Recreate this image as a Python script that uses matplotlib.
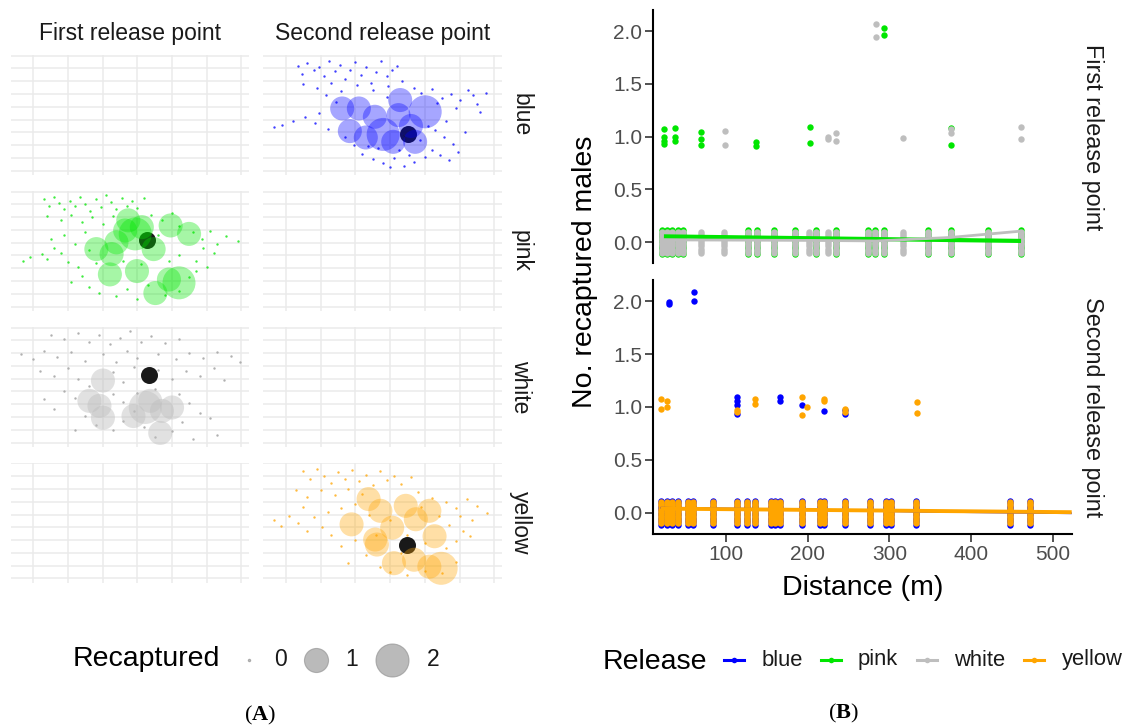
import matplotlib
matplotlib.use('Agg')
import matplotlib.pyplot as plt

plt.rcParams['font.family'] = ['Liberation Sans', 'DejaVu Sans']
plt.rcParams['mathtext.fontset'] = 'custom'
plt.rcParams['mathtext.rm'] = 'Liberation Serif'
plt.rcParams['mathtext.bf'] = 'Liberation Serif:bold'

# ---------------- data: panel A (trap map, grid units) ----------------
releases = ['blue', 'pink', 'white', 'yellow']
release_points = ['First release point', 'Second release point']
colors = {'blue': '#0000FF', 'pink': '#00E600', 'white': '#BEBEBE', 'yellow': '#FFA500'}

blue_zero = [(0.35,8.2),(0.45,7.6),(0.6,8.45),(0.8,7.9),(0.95,8.1),(1.1,7.4),(1.25,8.6),(1.4,7.8),(1.55,8.3),(1.7,7.2),
             (1.85,7.9),(2.0,8.5),(2.15,7.5),(2.3,8.1),(2.45,6.9),(2.6,7.7),(2.75,8.6),(2.9,7.4),(3.05,7.9),(3.2,8.2),
             (0.5,6.8),(0.9,6.5),(1.3,6.9),(1.6,6.2),(2.05,6.7),(2.5,6.3),(2.95,6.6),(3.35,7.0),(3.7,6.5),(1.15,5.9),
             (3.9,6.1),(4.2,6.4),(4.5,5.7),(4.75,6.0),(5.0,5.5),(5.25,6.3),(5.5,5.2),(5.75,6.1),(4.35,5.3),(4.9,4.9),
             (5.4,5.9),(5.6,4.6),(4.6,3.9),(4.3,3.2),(4.55,2.6),(4.8,2.1),(4.2,1.6),(4.45,1.2),(4.95,1.5),(4.7,0.8),
             (2.2,1.3),(2.5,0.9),(2.8,0.6),(3.1,1.0),(3.4,0.4),(3.7,0.7),(4.0,1.1),(2.65,1.8),(3.25,1.6),(3.55,1.2),
             (-0.35,3.4),(-0.1,3.6),(0.2,3.9),(0.55,4.2),(0.85,3.7),(1.2,3.3),(0.95,4.5),(1.45,5.4),
             (1.95,2.0),(2.35,1.9),(3.0,0.3),(3.85,2.4),(1.7,2.6),(2.9,5.8),(4.1,3.5),(5.15,3.0)]
blue_caught = [(1.62,4.87,1),(2.10,4.87,1),(1.84,3.10,1),(3.29,5.53,1),(4.01,4.61,2),(3.24,4.35,1),
               (2.80,2.84,2),(3.09,2.26,1),(3.72,2.26,1),(2.56,4.22,1),(3.6,3.5,1),(2.3,2.6,1)]
blue_release = (3.51, 2.84)

pink_zero = [(0.3,8.4),(0.45,7.9),(0.6,8.6),(0.75,8.1),(0.9,7.6),(1.05,8.3),(1.2,7.9),(1.35,8.6),(1.5,8.0),(1.65,7.5),
             (1.8,8.4),(1.95,7.8),(2.1,8.7),(2.25,8.2),(2.4,7.6),(2.55,8.5),(2.7,7.9),(2.85,8.3),(3.0,7.7),(3.2,8.5),
             (0.4,7.1),(0.8,6.8),(1.1,7.2),(1.4,6.6),(1.7,7.0),(2.0,6.5),(2.3,7.1),(3.4,7.2),(3.7,6.8),(4.0,7.3),
             (-0.3,3.6),(-0.1,3.9),(0.25,4.1),(0.4,3.7),(0.6,4.6),(0.8,4.2),(1.0,3.5),(1.2,4.9),(0.5,5.3),(0.9,5.6),
             (1.3,3.1),(1.5,5.8),(4.6,5.8),(4.85,5.3),(5.1,5.9),(5.3,4.9),(5.55,5.5),(5.9,5.1),(4.9,4.6),(5.2,4.2),
             (4.7,3.6),(5.0,3.1),(1.1,1.9),(1.4,2.4),(1.6,1.5),(1.9,1.1),(2.4,0.8),(2.7,1.4),(3.0,0.6),(3.3,1.7),
             (3.8,0.9),(4.2,1.2),(4.5,2.3),(4.7,2.8),(1.8,3.4),(2.6,3.6),(3.1,3.3),(3.9,3.6),(4.2,4.0),(1.6,4.4),
             (3.6,5.6),(4.2,6.3)]
pink_caught = [(2.65,5.96,1),(2.94,5.69,2),(2.40,5.03,1),(3.96,6.35,1),(4.49,5.69,1),(1.82,4.50,1),
               (2.26,4.11,1),(2.21,2.52,1),(2.99,2.78,1),(3.52,1.06,1),(3.91,2.12,1),(4.20,1.86,2),
               (3.47,4.50,1),(2.74,6.75,1),(3.13,6.22,1)]
pink_release = (3.28, 5.22)

white_zero = [(0.5,8.4),(0.9,8.1),(1.3,8.6),(1.6,7.9),(1.9,8.4),(2.2,7.7),(2.5,8.2),(2.8,8.7),(3.1,7.9),(3.4,8.3),
              (3.8,7.8),(4.2,8.1),(-0.35,6.9),(0.0,6.5),(0.3,7.2),(0.7,6.7),(1.1,7.1),(1.5,6.4),(2.0,6.9),(2.4,6.3),
              (2.7,7.2),(3.0,6.6),(3.6,6.9),(4.1,6.5),(4.5,7.0),(4.9,6.6),(5.3,7.1),(5.7,6.8),(5.95,6.3),
              (0.2,5.6),(0.6,5.2),(1.0,5.8),(1.3,5.0),(1.6,4.4),(2.3,5.5),(2.6,4.7),(2.9,5.9),(3.6,5.7),(4.0,5.0),
              (4.4,5.6),(4.8,5.2),(5.2,5.8),(5.5,4.9),(0.9,4.0),(1.2,3.5),(2.3,3.8),(2.6,3.2),(2.9,2.5),(3.0,3.9),
              (3.5,4.2),(4.2,3.8),(4.5,3.1),(4.8,2.3),(5.1,1.9),(4.3,1.6),(1.5,2.1),(1.8,1.4),(2.3,1.0),(2.6,1.7),
              (3.2,1.2),(3.5,0.4),(4.0,0.9),(4.6,0.3),(5.3,0.6),(1.2,1.0),(0.6,2.6),(0.3,3.4)]
white_caught = [(2.01,4.85,1),(1.62,3.26,1),(1.91,2.87,1),(2.01,1.94,1),(2.89,2.07,1),(3.37,3.26,1),
                (3.71,2.47,1),(4.00,2.74,1),(3.66,0.75,1),(3.23,2.74,2)]
white_release = (3.33, 5.25)

yellow_zero = [(0.5,8.4),(0.7,7.8),(0.9,8.6),(1.1,8.0),(1.3,7.5),(1.5,8.3),(1.7,7.8),(1.9,8.5),(2.1,7.6),(2.3,8.1),
               (2.5,7.3),(2.7,8.4),(2.9,7.7),(3.1,8.0),(3.3,7.4),(3.6,7.9),(0.3,6.9),(0.6,6.4),(1.0,6.9),(1.4,6.5),
               (1.8,7.0),(2.2,6.6),(2.0,5.8),(1.6,5.5),(3.8,6.8),(4.2,6.3),(-0.35,4.6),(-0.15,4.1),(0.1,4.9),(0.35,4.3),
               (0.6,3.7),(0.8,4.8),(1.05,4.0),(1.3,3.4),(0.5,5.6),(1.2,5.2),(4.6,6.0),(4.9,5.5),(5.2,6.2),(5.5,5.7),
               (5.8,5.1),(5.0,4.9),(5.35,4.6),(4.7,4.2),(5.1,3.7),(4.9,2.9),(4.6,2.4),(5.3,3.3),(2.0,3.0),(1.6,2.5),
               (2.3,1.8),(1.8,1.2),(2.7,0.9),(3.0,0.5),(3.5,0.3),(4.0,0.6),(4.5,0.4),(4.9,1.3),(3.3,2.0),(2.6,3.4),
               (3.0,4.6),(3.5,3.4),(4.0,2.8),(4.4,4.9),(3.9,5.6),(2.4,5.0)]
yellow_caught = [(2.38,6.21,1),(2.72,5.29,1),(3.45,5.68,1),(4.13,5.29,1),(1.89,4.23,1),(3.06,3.97,1),
                 (3.74,4.63,1),(4.28,3.30,1),(2.62,2.65,1),(3.11,1.19,1),(3.69,1.46,1),(4.13,0.92,1),
                 (4.47,0.79,2),(2.57,3.04,1)]
yellow_release = (3.50, 2.65)

map_panels = {('blue', 1): (blue_zero, blue_caught, blue_release),
              ('pink', 0): (pink_zero, pink_caught, pink_release),
              ('white', 0): (white_zero, white_caught, white_release),
              ('yellow', 1): (yellow_zero, yellow_caught, yellow_release)}
recap_levels = [0, 1, 2]

# ---------------- data: panel B (recaptures vs distance) ----------------
pink_zero_dist = [21.3, 27.4, 33.5, 41.6, 47.7, 127.3, 137.6, 158.8, 184.5, 210.2, 234.7,
                  274.3, 282.4, 293.5, 347.0, 375.5, 420.4, 460.8]
white_zero_dist = [21.3, 27.4, 33.5, 41.6, 47.7, 69.4, 97.9, 127.3, 137.6, 158.8, 184.5, 202.0,
                   210.2, 224.5, 234.7, 274.3, 282.4, 293.5, 317.1, 347.0, 375.5, 420.4, 460.8]
pink_hit_d = [24.1, 24.1, 24.1, 24.1, 37.2, 37.2, 37.2, 69.8, 69.8, 69.8, 136.3, 136.3,
              202.5, 202.5, 375.5, 375.5, 293.9, 293.9]
pink_hit_y = [1.07, 1.00, 0.96, 0.93, 1.08, 1.00, 0.96, 1.04, 0.98, 0.92, 0.95, 0.91,
              1.09, 0.94, 1.08, 0.92, 2.03, 1.96]
white_hit_d = [98.4, 98.4, 225.3, 225.3, 234.7, 234.7, 283.7, 283.7, 317.1, 375.5, 375.5, 460.8, 460.8]
white_hit_y = [1.05, 0.92, 1.00, 0.98, 1.03, 0.96, 2.07, 1.94, 0.99, 1.07, 1.03, 1.09, 0.98]
pink_fit_d = [24, 461]
pink_fit_y = [0.055, 0.012]
white_fit_d = [21, 100, 200, 284, 375, 461]
white_fit_y = [0.022, 0.020, 0.017, 0.012, 0.045, 0.105]

blue_zero_dist = [20.0, 27.4, 33.5, 41.6, 53.8, 59.2, 83.7, 113.1, 125.3, 135.5, 154.7, 160.0, 166.1,
                  193.4, 215.0, 220.0, 245.8, 276.3, 295.9, 301.6, 332.3, 446.9, 471.4]
yellow_zero_dist = [20.0, 27.4, 33.5, 41.6, 53.8, 59.2, 83.7, 113.1, 125.3, 135.5, 154.7, 160.0, 166.1,
                    193.4, 215.0, 220.0, 245.8, 276.3, 295.9, 301.6, 332.3, 446.9, 471.4]
blue_hit_d = [30.6, 30.6, 60.8, 60.8, 113.1, 113.1, 113.1, 113.1, 166.2, 166.2, 193.1, 220.1, 245.8, 245.8]
blue_hit_y = [1.99, 1.97, 2.09, 2.00, 1.09, 1.06, 1.02, 0.93, 1.09, 1.06, 1.02, 0.96, 0.97, 0.93]
yellow_hit_d = [20.4, 20.4, 27.3, 27.3, 113.1, 113.1, 135.5, 135.5, 193.1, 193.1, 198.8,
                220.1, 220.1, 245.8, 245.8, 333.5, 333.5]
yellow_hit_y = [1.08, 0.98, 1.06, 1.00, 0.97, 0.95, 1.08, 1.03, 1.09, 0.92, 1.00,
                1.08, 1.06, 0.98, 0.95, 1.05, 0.94]
blue_fit_d = [20, 160, 330, 523]
blue_fit_y = [0.048, 0.035, 0.012, -0.004]
yellow_fit_d = [20, 523]
yellow_fit_y = [0.040, 0.006]

zero_jitter = [-0.1, -0.08, -0.06, -0.04, -0.02, 0.0, 0.02, 0.04, 0.06, 0.08, 0.1]
y_ticks = [0.0, 0.5, 1.0, 1.5, 2.0]
x_ticks = [100, 200, 300, 400, 500]

# ---------------- figure ----------------
W, H = 1129, 727
fig = plt.figure(figsize=(W / 100, H / 100), dpi=100)


def frac(left, top, w, h):
    return [left / W, 1 - (top + h) / H, w / W, h / H]


TXT = '#1A1A1A'
size_map = {0: 3.0, 1: 300, 2: 565}

# ---- panel A ----
col_left = [10.5, 263.3]
row_top = [55.0, 190.9, 326.8, 462.7]
pw, ph = 238.8, 120.0
for r, rel in enumerate(releases):
    for c in range(2):
        ax = fig.add_axes(frac(col_left[c], row_top[r], pw, ph))
        ax.set_xlim(-0.652, 6.225)
        ax.set_ylim(-0.336, 9.055)
        ax.set_axis_off()
        for v in range(7):
            ax.axvline(v, color='#EBEBEB', lw=1.1, zorder=0)
        for hh in range(10):
            ax.axhline(hh, color='#EBEBEB', lw=1.1, zorder=0)
        if (rel, c) in map_panels:
            zero, caught, relpt = map_panels[(rel, c)]
            col = colors[rel]
            zalpha = 0.75 if rel != 'white' else 0.9
            zcol = col if rel != 'white' else '#A8A8A8'
            ax.scatter([p[0] for p in zero], [p[1] for p in zero], s=size_map[0],
                       color=zcol, alpha=zalpha, linewidths=0, zorder=2)
            ax.scatter([relpt[0]], [relpt[1]], s=150, color='black', alpha=0.9,
                       linewidths=0, zorder=2.5)
            calpha = 0.35 if rel != 'white' else 0.45
            ax.scatter([p[0] for p in caught], [p[1] for p in caught],
                       s=[size_map[p[2]] for p in caught], color=col, alpha=calpha,
                       linewidths=0, zorder=3, clip_on=False)
    fig.text(520.6 / W, 1 - (row_top[r] + ph / 2) / H, rel, rotation=-90,
             ha='center', va='center', fontsize=16.5, color=TXT)

for c, name in enumerate(release_points):
    fig.text((col_left[c] + pw / 2) / W, 1 - 33.8 / H, name, ha='center', va='center',
             fontsize=16.5, color=TXT)

# overlay axes in pixel coordinates for legends
lax = fig.add_axes([0, 0, 1, 1])
lax.set_xlim(0, W)
lax.set_ylim(H, 0)
lax.set_axis_off()

fig.text(72.7 / W, 1 - 659.5 / H, 'Recaptured', ha='left', va='center', fontsize=20.5, color='black')
leg_x = [248.5, 316.0, 392.0]
lab_x = [280.6, 351.6, 432.7]
for lv, lx, tx in zip(recap_levels, leg_x, lab_x):
    lax.scatter([lx], [659.5], s=size_map[lv], color='#8C8C8C', alpha=0.6,
                edgecolors='#8C8C8C', linewidths=0.8)
    fig.text(tx / W, 1 - 659.5 / H, str(lv), ha='center', va='center', fontsize=16.5, color=TXT)

fig.text(260.3 / W, 1 - 715 / H, r'($\mathbf{A}$)', ha='center', va='center', fontsize=16,
         family='Liberation Serif')

# ---- panel B ----
ax_up = fig.add_axes(frac(653.3, 10.0, 418.4, 253.3))
ax_lo = fig.add_axes(frac(653.3, 280.0, 418.4, 254.0))

MS = 4.6


def draw_series(ax, zero_d, hit_d, hit_y, fit_d, fit_y, col, jit_scale, lw):
    zx = [d for d in zero_d for _ in zero_jitter]
    zy = [j * jit_scale for _ in zero_d for j in zero_jitter]
    ax.plot(zx, zy, 'o', ms=MS, color=col, mec='none', zorder=2)
    ax.plot(hit_d, hit_y, 'o', ms=MS, color=col, mec='none', zorder=2)
    return (fit_d, fit_y, col, lw)


fits_up = [draw_series(ax_up, pink_zero_dist, pink_hit_d, pink_hit_y, pink_fit_d, pink_fit_y,
                       colors['pink'], 1.12, 3.0),
           draw_series(ax_up, white_zero_dist, white_hit_d, white_hit_y, white_fit_d, white_fit_y,
                       colors['white'], 1.0, 2.0)]
fits_lo = [draw_series(ax_lo, blue_zero_dist, blue_hit_d, blue_hit_y, blue_fit_d, blue_fit_y,
                       colors['blue'], 1.12, 1.3),
           draw_series(ax_lo, yellow_zero_dist, yellow_hit_d, yellow_hit_y, yellow_fit_d, yellow_fit_y,
                       colors['yellow'], 1.0, 2.8)]
for ax, fits in ((ax_up, fits_up), (ax_lo, fits_lo)):
    for fd, fy, col, lw in fits:
        ax.plot(fd, fy, '-', color=col, lw=lw, zorder=3, solid_capstyle='butt')

for ax in (ax_up, ax_lo):
    ax.set_xlim(11, 523)
    ax.set_ylim(-0.2, 2.2)
    ax.patch.set_alpha(0)
    ax.spines['top'].set_visible(False)
    ax.spines['right'].set_visible(False)
    ax.spines['left'].set_linewidth(1.5)
    ax.spines['bottom'].set_linewidth(1.5)
    ax.set_yticks(y_ticks)
    ax.set_yticklabels(['%.1f' % v for v in y_ticks])
    ax.tick_params(axis='both', length=5.5, width=1.2, color='#333333', labelsize=15,
                   labelcolor='#4D4D4D', pad=2.5)

ax_up.spines['bottom'].set_visible(False)
ax_up.set_xticks([])
ax_lo.set_xticks(x_ticks)
ax_lo.set_xticklabels([str(v) for v in x_ticks])

fig.text(1092.7 / W, 1 - 136.7 / H, 'First release point', rotation=-90, ha='center', va='center',
         fontsize=16.8, color=TXT)
fig.text(1092.7 / W, 1 - 407.0 / H, 'Second release point', rotation=-90, ha='center', va='center',
         fontsize=16.8, color=TXT)
fig.text(585.4 / W, 1 - 272.0 / H, 'No. recaptured males', rotation=90, ha='center', va='center',
         fontsize=20.5, color='black')
fig.text(862.5 / W, 1 - 588.0 / H, 'Distance (m)', ha='center', va='center', fontsize=20.5, color='black')

# legend B
fig.text(603 / W, 1 - 661.7 / H, 'Release', ha='left', va='center', fontsize=20.5, color='black')
key_x = [724.0, 820.7, 916.7, 1024.0]
lab_bx = [761.7, 858.0, 954.0, 1061.7]
for rel, kx, tx in zip(releases, key_x, lab_bx):
    lax.plot([kx, kx + 20], [660, 660], '-', color=colors[rel], lw=2.2)
    lax.plot([kx + 10], [660], 'o', color=colors[rel], ms=4, mec='none')
    fig.text(tx / W, 1 - 660 / H, rel, ha='left', va='center', fontsize=15.8, color=TXT)

fig.text(843.3 / W, 1 - 713.3 / H, r'($\mathbf{B}$)', ha='center', va='center', fontsize=16,
         family='Liberation Serif')

fig.savefig('out.png', dpi=100)
